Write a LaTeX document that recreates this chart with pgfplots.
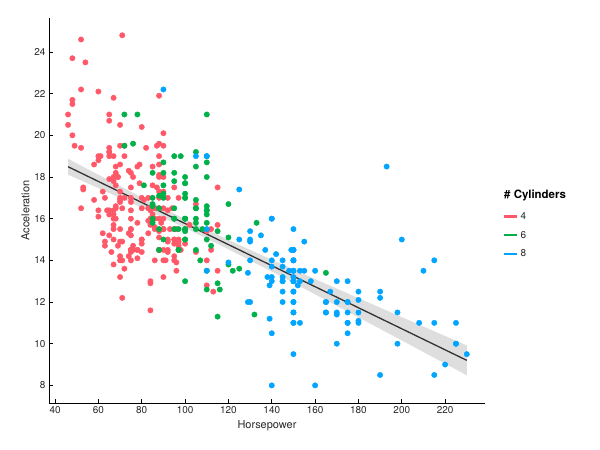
\documentclass[border=0pt]{standalone}
\usepackage{pgfplots}
\pgfplotsset{compat=1.18}
\usepackage{fontspec}
\setmainfont{TeX Gyre Heros}
\definecolor{cred}{RGB}{255,88,104}
\definecolor{cgreen}{RGB}{0,176,72}
\definecolor{cblue}{RGB}{0,165,255}
\definecolor{band}{RGB}{222,222,222}
\definecolor{txt}{RGB}{40,40,40}
\definecolor{fitline}{RGB}{51,51,51}
\begin{document}
\begin{tikzpicture}
\useasboundingbox (0bp,0bp) rectangle (600bp,450bp);
\begin{axis}[
  at={(49bp,47bp)}, anchor=south west,
  scale only axis, width=436bp, height=385bp,
  xmin=37.2, xmax=238.4, ymin=7.155, ymax=25.63,
  axis x line=bottom, axis y line=left,
  axis line style={-, line width=0.8bp, black},
  xtick={40,60,...,220}, ytick={8,10,...,24},
  tick align=inside, major tick length=3.5bp,
  tick style={line width=0.7bp, black},
  ticklabel style={font=\fontsize{10}{12}\selectfont, text=txt},
  /pgf/number format/assume math mode=true,
  xlabel={Horsepower}, ylabel={Acceleration},
  label style={font=\fontsize{11}{13}\selectfont, text=txt},
  xlabel style={yshift=0bp},
  ylabel style={yshift=-2bp},
  clip=false,
  legend style={draw=none, fill=none, at={(1.0344,0.506)}, anchor=north west,
    font=\fontsize{10}{12}\selectfont, row sep=6bp,
    nodes={inner sep=2bp, text=txt}},
  legend cell align=left,
  legend image code/.code={\draw[#1, line width=2.4bp] (0bp,0bp) -- (13bp,0bp);},
  pt/.style={only marks, mark=*, mark size=2.7bp, mark options={draw=none, fill=#1}, color=#1},
]
% confidence band
\addplot[forget plot, no marks, draw=none, fill=band] coordinates {
(46,18.874) (60,18.106) (80,17.023) (100,15.975) (120,14.980) (140,14.030) (160,13.103) (180,12.188) (200,11.277) (230,9.917)
(230,8.485) (200,10.155) (180,11.264) (160,12.369) (140,13.462) (120,14.532) (100,15.557) (80,16.529) (60,17.466) (46,18.112)
} -- cycle;
% 4 cylinders
\addplot[forget plot, pt=cred] coordinates {
(115,17.5)(48,20.0)(110,15.4)
(95,15.0)(88,14.5)(46,20.5)(87,17.5)(90,14.5)(95,17.5)(113,12.5)(88,14.5)(90,15.5)(95,14.0)
(72,19.0)(86,14.0)(90,14.0)(70,19.5)(76,14.5)(65,19.0)(69,18.0)(60,19.0)(70,20.5)(95,15.5)
(80,17.0)(54,23.5)(90,19.5)(86,16.5)(112,14.5)(76,18.0)(87,19.5)(69,18.0)(86,16.0)(92,17.0)
(97,14.5)(80,15.0)(88,16.5)(46,21.0)(88,19.0)(72,19.5)(94,16.5)(85,18.5)(90,15.5)(49,19.5)
(75,15.5)(91,14.0)(112,15.5)(110,14.0)(67,19.0)(80,16.5)(65,21.0)(75,17.0)(83,16.5)(67,15.5)
(78,14.5)(52,16.5)(61,19.0)(75,14.5)(75,15.5)(75,14.0)(97,15.0)(93,15.5)(67,16.0)(75,16.0)
(83,17.0)(78,18.5)(96,13.5)(71,16.5)(97,17.0)(70,14.0)(95,15.0)(88,17.0)(98,14.5)(115,13.5)
(53,17.5)(86,15.5)(81,16.9)(92,14.9)(79,17.7)(83,15.3)(52,22.2)(60,22.1)(70,14.2)(53,17.4)
(71,12.2)(70,17.0)(75,16.4)(72,13.6)(102,15.7)(88,21.9)(68,18.5)(80,14.8)(58,18.6)(96,15.5)
(70,16.8)(78,14.5)(88,16.0)(75,18.2)(89,15.8)(63,17.0)(83,15.9)(67,16.4)(78,14.1)(110,12.8)
(48,21.5)(66,14.4)(52,19.4)(70,18.6)(60,16.4)(88,15.4)(68,16.5)(95,14.2)(97,14.7)(75,14.5)
(95,14.8)(105,16.7)(85,17.6)(97,14.9)(115,15.7)(71,14.9)(68,16.6)(88,17.3)(71,14.0)(65,15.2)
(80,14.4)(80,15.0)(71,24.8)(70,13.2)(70,14.9)(65,19.2)(69,14.7)(90,16.0)(90,13.2)(76,14.7)
(60,18.8)(70,15.5)(65,16.4)(90,16.5)(88,18.1)(90,20.1)(78,15.8)(90,15.5)(75,17.5)(92,15.0)
(75,15.2)(65,17.9)(105,14.4)(65,19.2)(48,21.7)(48,23.7)(67,21.8)(67,13.8)(67,18.0)(62,15.3)
(88,15.1)(72,17.0)(84,15.7)(84,16.4)(92,14.4)(84,12.9)(58,16.9)(64,16.4)(60,16.1)(67,17.8)
(65,19.4)(62,17.3)(68,16.0)(63,14.9)(65,16.2)(65,20.7)(74,14.2)(75,14.4)(75,16.8)(100,14.8)
(74,18.3)(80,20.4)(88,19.6)(88,18.6)(88,18.0)(85,16.2)(84,16.0)(90,18.0)(92,16.4)(74,15.3)
(68,18.2)(68,17.6)(63,14.7)(70,17.3)(88,14.5)(75,14.5)(70,16.9)(67,15.0)(67,15.7)(67,16.2)
(92,14.5)(96,13.9)(84,13.0)(90,17.3)(86,15.6)(52,24.6)(84,11.6)(79,18.6)(82,19.4)
};
% 6 cylinders
\addplot[forget plot, pt=cgreen] coordinates {
(95,15.5)(97,15.5)(85,16.0)(90,15.0)(100,13.0)(105,15.5)(100,15.5)(88,15.5)(100,15.5)(110,13.5)
(100,15.0)(88,14.5)(105,16.5)(100,18.0)(100,16.0)(88,16.5)(95,16.0)(100,15.0)(107,14.0)(122,13.5)
(95,16.5)(100,16.0)(100,17.0)(100,17.0)(110,18.0)(105,16.5)(95,16.0)(105,16.0)(72,21.0)(72,19.5)
(110,21.0)(105,18.5)(110,19.0)(95,19.0)(110,15.0)(100,16.0)(97,14.5)(90,17.0)(100,15.4)(105,14.5)
(81,17.6)(90,17.6)(100,17.7)(78,21.0)(110,16.2)(95,17.8)(108,15.5)(120,16.7)(110,16.4)(105,16.9)
(100,17.7)(98,19.0)(97,14.5)(105,19.2)(95,18.2)(85,15.8)(100,17.2)(90,17.2)(105,15.8)(85,16.7)
(110,18.7)(120,15.1)(165,13.4)(125,13.6)(133,15.8)(115,15.4)(85,18.2)(90,18.2)(110,16.6)(115,11.3)
(115,12.9)(90,18.7)(132,11.4)(110,12.6)(76,19.6)(116,12.6)(120,13.8)(110,15.8)(88,17.1)(85,16.6)
(110,16.4)(85,17.0)(112,14.7)
};
% 8 cylinders
\addplot[forget plot, pt=cblue] coordinates {
(130,12.0)(165,11.5)(150,11.0)(150,12.0)(140,10.5)(198,10.0)(220,9.0)(215,8.5)(225,10.0)(190,8.5)
(165,11.5)(153,11.0)(175,10.5)(175,11.0)(170,10.0)(160,8.0)(140,8.0)(150,9.5)(225,10.0)
(215,14.0)(200,15.0)(210,13.5)(193,18.5)(165,12.0)(175,11.5)(153,13.5)(150,13.0)(180,11.5)(170,12.0)
(175,12.0)(165,12.0)(175,12.0)(150,13.5)(153,13.0)(150,11.5)(208,11.0)(155,13.5)(160,13.5)(190,12.5)
(150,12.5)(130,14.0)(140,16.0)(150,14.0)(175,13.0)(150,11.5)(145,13.0)(137,14.5)(150,12.5)(198,11.5)
(150,12.0)(158,13.0)(150,14.5)(215,11.0)(225,11.0)(175,11.0)(150,14.0)(167,12.5)(170,13.0)(180,12.5)
(145,13.0)(230,9.5)(150,11.0)(180,11.0)(140,14.0)(150,14.5)(150,13.5)(140,16.0)(150,15.5)(170,11.5)
(145,14.0)(150,14.5)(148,13.5)(110,13.5)(129,12.0)(140,13.0)(150,13.0)(120,13.9)(152,12.8)(150,13.2)
(180,12.1)(145,12.0)(130,15.0)(150,14.0)(145,12.5)(110,19.0)(145,13.7)(130,14.9)(180,11.1)(170,11.4)
(190,12.2)(149,14.5)(110,15.5)(140,13.2)(139,12.8)(145,13.2)(139,11.2)(140,13.7)(130,15.4)(129,13.4)
(138,13.2)(135,15.2)(155,14.9)(142,14.3)(125,15.0)(150,13.0)(125,17.4)(90,22.2)(105,19.0)
};
% regression line
\addplot[forget plot, no marks, color=fitline, line width=1.3bp] coordinates {(46,18.493) (230,9.201)};
% legend
\addlegendimage{cred}
\addlegendentry{4}
\addlegendimage{cgreen}
\addlegendentry{6}
\addlegendimage{cblue}
\addlegendentry{8}
\node[anchor=west, inner sep=0pt, font=\bfseries\fontsize{11.5}{13}\selectfont, text=black] at (rel axis cs:1.0436,0.5377) {\# Cylinders};
\end{axis}
\end{tikzpicture}
\end{document}
